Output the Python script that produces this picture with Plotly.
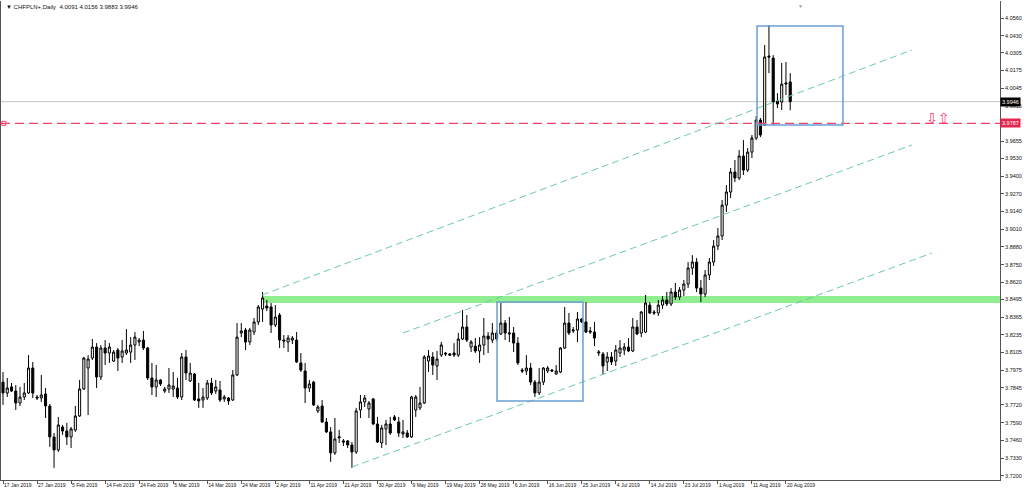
import plotly.graph_objects as go

# ---------------- data ----------------
symbol_title = "CHFPLN+,Daily"
header_values = ["4.0091", "4.0156", "3.9883", "3.9946"]

date_labels = ["17 Jan 2019", "27 Jan 2019", "5 Feb 2019", "14 Feb 2019", "24 Feb 2019",
               "5 Mar 2019", "14 Mar 2019", "24 Mar 2019", "2 Apr 2019", "11 Apr 2019",
               "21 Apr 2019", "30 Apr 2019", "9 May 2019", "19 May 2019", "28 May 2019",
               "6 Jun 2019", "16 Jun 2019", "25 Jun 2019", "4 Jul 2019", "14 Jul 2019",
               "23 Jul 2019", "1 Aug 2019", "11 Aug 2019", "20 Aug 2019"]
bars_per_label = 8

opens = [3.7888, 3.7808, 3.7852, 3.7822, 3.7734, 3.7778, 3.7808, 3.7991, 3.7778, 3.7771,
         3.7800, 3.7712, 3.7485, 3.7390, 3.7558, 3.7529, 3.7485, 3.7536, 3.7639, 3.7837,
         3.7991, 3.8064, 3.8145, 3.7925, 3.8138, 3.8101, 3.8042, 3.8123, 3.8072, 3.8101,
         3.8108, 3.8160, 3.8182, 3.8196, 3.8138, 3.7918, 3.7852, 3.7903, 3.7822, 3.7837,
         3.7837, 3.7844, 3.7778, 3.8072, 3.7896, 3.7947, 3.7764, 3.7756, 3.7771, 3.7881,
         3.7822, 3.7830, 3.7764, 3.7771, 3.7756, 3.7940, 3.8248, 3.8270, 3.8182, 3.8255,
         3.8329, 3.8424, 3.8446, 3.8439, 3.8307, 3.8380, 3.8196, 3.8182, 3.8196, 3.8196,
         3.8028, 3.7969, 3.7844, 3.7888, 3.7676, 3.7712, 3.7595, 3.7522, 3.7368, 3.7478,
         3.7456, 3.7456, 3.7426, 3.7375, 3.7683, 3.7742, 3.7690, 3.7764, 3.7580, 3.7441,
         3.7544, 3.7580, 3.7632, 3.7595, 3.7507, 3.7514, 3.7485, 3.7683, 3.7698, 3.7734,
         3.8042, 3.8072, 3.8006, 3.8086, 3.8101, 3.8094, 3.8101, 3.8086, 3.8204, 3.8292,
         3.8145, 3.8152, 3.8116, 3.8160, 3.8226, 3.8196, 3.8248, 3.8241, 3.8321, 3.8241,
         3.8248, 3.8174, 3.7976, 3.7969, 3.7991, 3.7888, 3.7808, 3.7888, 3.7969, 3.7976,
         3.7947, 3.7962, 3.8138, 3.8321, 3.8263, 3.8270, 3.8351, 3.8329, 3.8263, 3.8255,
         3.8101, 3.8094, 3.8035, 3.8072, 3.8042, 3.8101, 3.8123, 3.8145, 3.8116, 3.8292,
         3.8248, 3.8255, 3.8453, 3.8402, 3.8395, 3.8453, 3.8490, 3.8461, 3.8549, 3.8512,
         3.8563, 3.8607, 3.8725, 3.8769, 3.8578, 3.8534, 3.8674, 3.8769, 3.8886, 3.8960,
         3.9187, 3.9283, 3.9430, 3.9386, 3.9547, 3.9444, 3.9576, 3.9679, 3.9811, 3.9775,
         4.0281, 4.0266, 3.9951, 3.9943, 4.0075, 4.0091]
highs = [3.7962, 3.7918, 3.7881, 3.7866, 3.7852, 3.7881, 3.8086, 3.8035, 3.7793, 3.7940,
         3.7844, 3.7727, 3.7514, 3.7632, 3.7573, 3.7588, 3.7558, 3.7712, 3.7903, 3.8072,
         3.8086, 3.8204, 3.8174, 3.8160, 3.8196, 3.8174, 3.8123, 3.8138, 3.8196, 3.8277,
         3.8218, 3.8255, 3.8211, 3.8263, 3.8145, 3.8028, 3.8013, 3.7910, 3.7852, 3.7991,
         3.7962, 3.7918, 3.8101, 3.8123, 3.8028, 3.7954, 3.7881, 3.7844, 3.7903, 3.7918,
         3.7903, 3.7896, 3.7793, 3.7778, 3.7976, 3.8321, 3.8321, 3.8285, 3.8285, 3.8358,
         3.8453, 3.8549, 3.8490, 3.8468, 3.8453, 3.8395, 3.8233, 3.8233, 3.8226, 3.8255,
         3.8101, 3.8028, 3.7903, 3.7896, 3.7720, 3.7756, 3.7624, 3.7558, 3.7624, 3.7536,
         3.7470, 3.7463, 3.7448, 3.7698, 3.7793, 3.7793, 3.7749, 3.7771, 3.7632, 3.7573,
         3.7610, 3.7632, 3.7646, 3.7632, 3.7610, 3.7536, 3.7786, 3.7793, 3.7852, 3.8086,
         3.8123, 3.8108, 3.8116, 3.8182, 3.8108, 3.8101, 3.8174, 3.8248, 3.8417, 3.8380,
         3.8196, 3.8211, 3.8218, 3.8358, 3.8255, 3.8321, 3.8270, 3.8468, 3.8343, 3.8365,
         3.8292, 3.8218, 3.7991, 3.8086, 3.8028, 3.7903, 3.7991, 3.7998, 3.8006, 3.7984,
         3.8013, 3.8145, 3.8439, 3.8395, 3.8292, 3.8402, 3.8358, 3.8475, 3.8292, 3.8329,
         3.8123, 3.8108, 3.8108, 3.8108, 3.8160, 3.8196, 3.8174, 3.8211, 3.8358, 3.8343,
         3.8409, 3.8527, 3.8475, 3.8417, 3.8490, 3.8519, 3.8549, 3.8578, 3.8615, 3.8585,
         3.8637, 3.8769, 3.8820, 3.8798, 3.8637, 3.8710, 3.8798, 3.8930, 3.9019, 3.9224,
         3.9334, 3.9459, 3.9518, 3.9591, 3.9664, 3.9606, 3.9701, 3.9841, 3.9826, 4.0362,
         4.0509, 4.0288, 4.0009, 4.0230, 4.0237, 4.0156]
lows = [3.7720, 3.7778, 3.7815, 3.7683, 3.7712, 3.7756, 3.7800, 3.7771, 3.7756, 3.7742,
        3.7624, 3.7412, 3.7258, 3.7375, 3.7500, 3.7426, 3.7404, 3.7522, 3.7632, 3.7830,
        3.7646, 3.8050, 3.7844, 3.7903, 3.8013, 3.8028, 3.8035, 3.7969, 3.8028, 3.8086,
        3.8028, 3.8050, 3.8152, 3.8123, 3.7903, 3.7793, 3.7778, 3.7859, 3.7808, 3.7808,
        3.7778, 3.7764, 3.7756, 3.7903, 3.7888, 3.7749, 3.7698, 3.7698, 3.7756, 3.7793,
        3.7800, 3.7742, 3.7742, 3.7720, 3.7749, 3.7932, 3.8218, 3.8123, 3.8160, 3.8233,
        3.8307, 3.8329, 3.8409, 3.8248, 3.8292, 3.8138, 3.8138, 3.8108, 3.8167, 3.8028,
        3.7962, 3.7734, 3.7815, 3.7712, 3.7661, 3.7588, 3.7514, 3.7302, 3.7353, 3.7441,
        3.7419, 3.7404, 3.7258, 3.7360, 3.7624, 3.7705, 3.7624, 3.7573, 3.7441, 3.7404,
        3.7426, 3.7500, 3.7602, 3.7485, 3.7478, 3.7478, 3.7478, 3.7632, 3.7683, 3.7727,
        3.7962, 3.7940, 3.7903, 3.8072, 3.8079, 3.8079, 3.8072, 3.8072, 3.8196, 3.8182,
        3.8108, 3.8101, 3.8028, 3.8086, 3.8101, 3.8174, 3.8189, 3.8233, 3.8196, 3.8182,
        3.8108, 3.8013, 3.7954, 3.7940, 3.7866, 3.7778, 3.7793, 3.7866, 3.7954, 3.7962,
        3.7940, 3.7954, 3.8130, 3.8233, 3.8248, 3.8182, 3.8321, 3.8248, 3.8241, 3.8152,
        3.8079, 3.7940, 3.7969, 3.8013, 3.8006, 3.8072, 3.8086, 3.8108, 3.8108, 3.8233,
        3.8218, 3.8248, 3.8387, 3.8380, 3.8373, 3.8424, 3.8446, 3.8446, 3.8490, 3.8490,
        3.8519, 3.8578, 3.8674, 3.8549, 3.8475, 3.8512, 3.8637, 3.8740, 3.8857, 3.8930,
        3.9136, 3.9239, 3.9356, 3.9371, 3.9408, 3.9430, 3.9532, 3.9664, 3.9686, 3.9767,
        4.0156, 3.9775, 3.9899, 3.9885, 3.9995, 3.9883]
closes = [3.7808, 3.7844, 3.7822, 3.7734, 3.7778, 3.7808, 3.7991, 3.7808, 3.7771, 3.7793,
          3.7712, 3.7485, 3.7390, 3.7573, 3.7529, 3.7485, 3.7544, 3.7639, 3.7837, 3.8064,
          3.8057, 3.8145, 3.7925, 3.8138, 3.8101, 3.8145, 3.8108, 3.8064, 3.8116, 3.8123,
          3.8160, 3.8218, 3.8196, 3.8138, 3.7918, 3.7852, 3.7903, 3.7874, 3.7837, 3.7866,
          3.7859, 3.7778, 3.8072, 3.7954, 3.7954, 3.7756, 3.7749, 3.7778, 3.7881, 3.7808,
          3.7852, 3.7756, 3.7778, 3.7749, 3.7940, 3.8218, 3.8263, 3.8182, 3.8270, 3.8329,
          3.8439, 3.8505, 3.8431, 3.8307, 3.8365, 3.8196, 3.8189, 3.8211, 3.8211, 3.8035,
          3.7976, 3.7844, 3.7874, 3.7720, 3.7705, 3.7595, 3.7522, 3.7368, 3.7470, 3.7485,
          3.7448, 3.7426, 3.7375, 3.7676, 3.7742, 3.7771, 3.7734, 3.7580, 3.7448, 3.7551,
          3.7580, 3.7514, 3.7610, 3.7514, 3.7522, 3.7485, 3.7778, 3.7778, 3.7734, 3.8072,
          3.8079, 3.8013, 3.8057, 3.8160, 3.8094, 3.8086, 3.8086, 3.8204, 3.8292, 3.8196,
          3.8182, 3.8116, 3.8160, 3.8226, 3.8204, 3.8248, 3.8204, 3.8321, 3.8248, 3.8248,
          3.8174, 3.8028, 3.7969, 3.7991, 3.7888, 3.7808, 3.7888, 3.7991, 3.7991, 3.7969,
          3.7969, 3.8138, 3.8321, 3.8248, 3.8270, 3.8351, 3.8329, 3.8255, 3.8255, 3.8211,
          3.8108, 3.8006, 3.8072, 3.8035, 3.8123, 3.8138, 3.8145, 3.8116, 3.8292, 3.8241,
          3.8402, 3.8468, 3.8395, 3.8395, 3.8453, 3.8490, 3.8461, 3.8549, 3.8512, 3.8563,
          3.8607, 3.8725, 3.8769, 3.8578, 3.8534, 3.8674, 3.8769, 3.8886, 3.8960, 3.9187,
          3.9283, 3.9430, 3.9386, 3.9547, 3.9444, 3.9576, 3.9679, 3.9811, 3.9701, 4.0274,
          4.0274, 3.9943, 3.9929, 4.0075, 4.0083, 3.9946]

# price scale labels (3.9785 is hidden under the alert label in the original)
price_ticks = [4.0560, 4.0430, 4.0305, 4.0175, 4.0045, 3.9915, 3.9655, 3.9530,
               3.9400, 3.9270, 3.9140, 3.9010, 3.8880, 3.8750, 3.8620, 3.8495, 3.8365,
               3.8235, 3.8105, 3.7975, 3.7845, 3.7720, 3.7590, 3.7460, 3.7330, 3.7200]

last_price = 3.9946
alert_price = 3.9787

# drawn objects (bar index, price)
support_zone = {"start": 60.9, "low": 3.8468, "high": 3.8519}
boxes = [{"x0": 116.1, "x1": 136.3, "y0": 3.7749, "y1": 3.8475},
         {"x0": 177.2, "x1": 197.4, "y0": 3.9775, "y1": 4.0501}]
channel_lines = [((60.9, 3.8527), (213.6, 4.0325)),
                 ((94.0, 3.8248), (213.6, 3.9628)),
                 ((82.0, 3.7264), (218.3, 3.8835))]

# ---------------- figure ----------------
n = len(opens)
xs = list(range(n))
tick_pos = [i * bars_per_label for i in range(len(date_labels))]

FONT = "Liberation Sans, Arial, sans-serif"
X_RANGE = [-0.47, 234.3]
Y_RANGE = [3.7169, 4.0685]
ALERT_COLOR = "#f4436d"

fig = go.Figure()
fig.add_trace(go.Candlestick(
    x=xs, open=opens, high=highs, low=lows, close=closes,
    increasing=dict(line=dict(color="#000000", width=1), fillcolor="#ffffff"),
    decreasing=dict(line=dict(color="#000000", width=1), fillcolor="#000000"),
    whiskerwidth=0, showlegend=False, hoverinfo="skip"))

# left marker of the alert line
fig.add_trace(go.Scatter(x=[0.2], y=[alert_price], mode="markers",
                         marker=dict(symbol="square-open", size=4, color=ALERT_COLOR,
                                     line=dict(width=1, color=ALERT_COLOR)),
                         showlegend=False, hoverinfo="skip", cliponaxis=False))

shapes = []
shapes.append(dict(type="rect", xref="x", yref="y", x0=support_zone["start"], x1=X_RANGE[1],
                   y0=support_zone["low"], y1=support_zone["high"],
                   fillcolor="#90ee90", line=dict(width=0), layer="below"))
shapes.append(dict(type="line", xref="paper", yref="y", x0=0, x1=1, y0=last_price, y1=last_price,
                   line=dict(color="#c4c4c4", width=1), layer="below"))
shapes.append(dict(type="line", xref="paper", yref="y", x0=0, x1=1, y0=alert_price, y1=alert_price,
                   line=dict(color=ALERT_COLOR, width=1.3, dash="9px,5px")))
for (x0, y0), (x1, y1) in channel_lines:
    shapes.append(dict(type="line", xref="x", yref="y", x0=x0, y0=y0, x1=x1, y1=y1,
                       line=dict(color="#6ccba4", width=1, dash="7px,4px")))
for b in boxes:
    shapes.append(dict(type="rect", xref="x", yref="y", x0=b["x0"], x1=b["x1"],
                       y0=b["y0"], y1=b["y1"], fillcolor="rgba(0,0,0,0)",
                       line=dict(color="#6b9ed3", width=1.5)))

annotations = []
annotations.append(dict(xref="paper", yref="paper", x=0.003, y=0.997, xanchor="left", yanchor="top",
                        text="▼ " + symbol_title + "  " + " ".join(header_values),
                        showarrow=False, font=dict(family=FONT, size=6, color="#111111")))
annotations.append(dict(xref="paper", yref="paper", x=0.8, y=1.0, xanchor="center", yanchor="top",
                        text="▼", showarrow=False, font=dict(family=FONT, size=5, color="#9a9a9a")))
annotations.append(dict(xref="paper", yref="y", x=1.0, y=last_price, xanchor="left", yanchor="middle",
                        text="%.4f" % last_price, showarrow=False, bgcolor="#000000",
                        borderpad=1, font=dict(family=FONT, size=5.5, color="#ffffff")))
annotations.append(dict(xref="paper", yref="y", x=1.0, y=alert_price, xanchor="left", yanchor="middle",
                        text="%.4f" % alert_price, showarrow=False, bgcolor="#e3274f",
                        borderpad=1, font=dict(family=FONT, size=5.5, color="#ffffff")))
annotations.append(dict(xref="x", yref="y", x=219.5, y=3.9826, xanchor="center", yanchor="middle",
                        text="⇩⇧", showarrow=False,
                        font=dict(family="DejaVu Sans", size=14, color=ALERT_COLOR)))

fig.update_layout(
    width=1024, height=494,
    margin=dict(l=1, r=24, t=1, b=14, autoexpand=False),
    paper_bgcolor="#ffffff", plot_bgcolor="#ffffff",
    shapes=shapes, annotations=annotations,
    font=dict(family=FONT, size=6, color="#111111"),
    showlegend=False,
)
fig.update_xaxes(
    range=X_RANGE, rangeslider=dict(visible=False), showgrid=False, zeroline=False,
    tickmode="array", tickvals=tick_pos, ticktext=date_labels, tickangle=0,
    ticks="outside", ticklen=3, tickcolor="#555555", ticklabelposition="outside right",
    tickfont=dict(family=FONT, size=5, color="#111111"), automargin=False,
    showline=True, linecolor="#555555", linewidth=1, fixedrange=True,
)
fig.update_yaxes(
    range=Y_RANGE, side="right", showgrid=False, zeroline=False,
    tickmode="array", tickvals=price_ticks, ticktext=["%.4f" % v for v in price_ticks],
    ticks="outside", ticklen=3, tickcolor="#555555", automargin=False,
    tickfont=dict(family=FONT, size=5.5, color="#111111"),
    showline=True, mirror=True, linecolor="#555555", linewidth=1, fixedrange=True,
)

fig.write_html("out.html", config={"displayModeBar": False},
               post_script="document.body.style.margin='0';document.body.style.overflow='hidden';")
